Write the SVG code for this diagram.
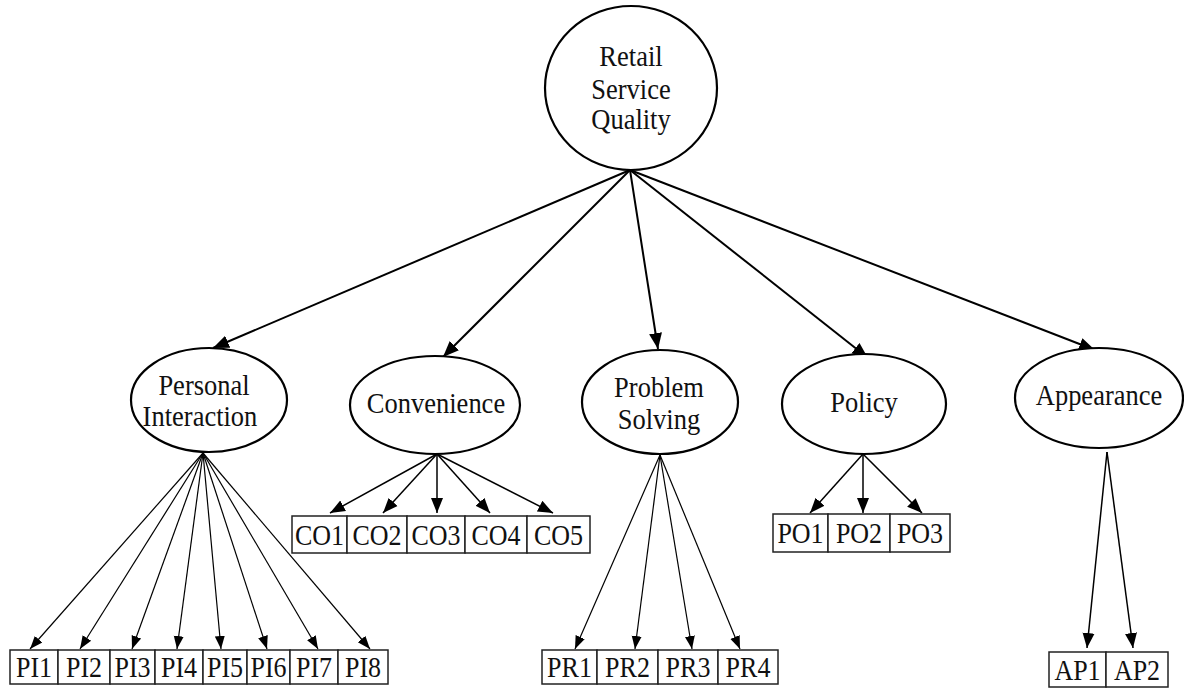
<svg xmlns="http://www.w3.org/2000/svg" width="1184" height="688" viewBox="0 0 1184 688">
<style>
.n{fill:#fff;stroke:#000;stroke-width:2.2}
.b{fill:#fff;stroke:#222;stroke-width:1.5}
.t,.bt{font-family:"Liberation Serif","Times New Roman",serif;fill:#111;text-anchor:middle;transform-box:fill-box;transform-origin:center}
.t{font-size:26.5px;transform:scaleY(1.12)}
.bt{font-size:26px;transform:scaleY(1.17)}
.e1{stroke:#000;stroke-width:2;fill:none;marker-end:url(#ah)}
.e2{stroke:#000;stroke-width:1.5;fill:none;marker-end:url(#ah2)}
.e3{stroke:#000;stroke-width:1.2;fill:none;marker-end:url(#ah3)}
</style>
<defs>
<marker id="ah" markerWidth="17" markerHeight="14" refX="16" refY="7" orient="auto" markerUnits="userSpaceOnUse"><path d="M0,0.5 L16,7 L0,13.5 z" fill="#000"/></marker>
<marker id="ah2" markerWidth="16" markerHeight="14" refX="15" refY="7" orient="auto" markerUnits="userSpaceOnUse"><path d="M0,1 L15,7 L0,13 z" fill="#000"/></marker>
<marker id="ah3" markerWidth="14" markerHeight="12" refX="13" refY="6" orient="auto" markerUnits="userSpaceOnUse"><path d="M0,1 L13,6 L0,11 z" fill="#000"/></marker>
</defs>
<rect width="1184" height="688" fill="#fff"/>
<g id="connectors">
<line class="e1" x1="630" y1="170" x2="213" y2="348"/>
<line class="e1" x1="630" y1="170" x2="443" y2="357"/>
<line class="e1" x1="630" y1="170" x2="658" y2="349"/>
<line class="e1" x1="630" y1="170" x2="868" y2="358"/>
<line class="e1" x1="630" y1="170" x2="1095" y2="350"/>
<line class="e3" x1="203" y1="453" x2="30" y2="649"/>
<line class="e3" x1="203" y1="453" x2="80" y2="649"/>
<line class="e3" x1="203" y1="453" x2="132" y2="649"/>
<line class="e3" x1="203" y1="453" x2="177" y2="649"/>
<line class="e3" x1="203" y1="453" x2="221" y2="649"/>
<line class="e3" x1="203" y1="453" x2="267" y2="649"/>
<line class="e3" x1="203" y1="453" x2="318" y2="649"/>
<line class="e3" x1="203" y1="453" x2="370" y2="649"/>
<line class="e2" x1="437" y1="454" x2="330" y2="513"/>
<line class="e2" x1="437" y1="454" x2="383" y2="513"/>
<line class="e2" x1="437" y1="454" x2="437" y2="513"/>
<line class="e2" x1="437" y1="454" x2="490" y2="513"/>
<line class="e2" x1="437" y1="454" x2="553" y2="513"/>
<line class="e3" x1="660" y1="455" x2="575" y2="649"/>
<line class="e3" x1="660" y1="455" x2="635" y2="649"/>
<line class="e3" x1="660" y1="455" x2="692" y2="649"/>
<line class="e3" x1="660" y1="455" x2="740" y2="649"/>
<line class="e2" x1="863" y1="454" x2="810" y2="513"/>
<line class="e2" x1="863" y1="454" x2="863" y2="513"/>
<line class="e2" x1="863" y1="454" x2="922" y2="513"/>
<line class="e2" x1="1107" y1="452" x2="1087" y2="648"/>
<line class="e2" x1="1107" y1="452" x2="1133" y2="648"/>
</g>
<g id="rsq"><ellipse class="n" cx="631" cy="88" rx="86" ry="82"/>
<text class="t" x="631" y="65">Retail</text><text class="t" x="631" y="98">Service</text><text class="t" x="631" y="128">Quality</text></g>
<g id="pi"><ellipse class="n" cx="209" cy="400" rx="78" ry="52"/>
<text class="t" x="204" y="394">Personal</text><text class="t" x="200" y="425">Interaction</text></g>
<g id="co"><ellipse class="n" cx="435" cy="405" rx="85" ry="49"/>
<text class="t" x="436" y="412">Convenience</text></g>
<g id="ps"><ellipse class="n" cx="660" cy="402" rx="78" ry="52"/>
<text class="t" x="659" y="396">Problem</text><text class="t" x="659" y="428">Solving</text></g>
<g id="po"><ellipse class="n" cx="864" cy="404" rx="82" ry="50"/>
<text class="t" x="864" y="411">Policy</text></g>
<g id="ap"><ellipse class="n" cx="1099" cy="398" rx="84" ry="50"/>
<text class="t" x="1099" y="404">Appearance</text></g>
<g id="pi-items">
<rect class="b" x="10" y="650" width="48" height="34"/><text class="bt" x="34" y="676">PI1</text>
<rect class="b" x="58" y="650" width="52" height="34"/><text class="bt" x="84" y="676">PI2</text>
<rect class="b" x="110" y="650" width="45" height="34"/><text class="bt" x="132.5" y="676">PI3</text>
<rect class="b" x="155" y="650" width="48" height="34"/><text class="bt" x="179" y="676">PI4</text>
<rect class="b" x="203" y="650" width="44" height="34"/><text class="bt" x="225" y="676">PI5</text>
<rect class="b" x="247" y="650" width="43" height="34"/><text class="bt" x="268.5" y="676">PI6</text>
<rect class="b" x="290" y="650" width="48" height="34"/><text class="bt" x="314" y="676">PI7</text>
<rect class="b" x="338" y="650" width="50" height="34"/><text class="bt" x="363" y="676">PI8</text>
</g>
<g id="co-items">
<rect class="b" x="292" y="516" width="55" height="37"/><text class="bt" x="319.5" y="544">CO1</text>
<rect class="b" x="347" y="516" width="60" height="37"/><text class="bt" x="377" y="544">CO2</text>
<rect class="b" x="407" y="516" width="58" height="37"/><text class="bt" x="436" y="544">CO3</text>
<rect class="b" x="465" y="516" width="62" height="37"/><text class="bt" x="496" y="544">CO4</text>
<rect class="b" x="527" y="516" width="63" height="37"/><text class="bt" x="558.5" y="544">CO5</text>
</g>
<g id="pr-items">
<rect class="b" x="542" y="650" width="55" height="34"/><text class="bt" x="569.5" y="676">PR1</text>
<rect class="b" x="597" y="650" width="61" height="34"/><text class="bt" x="627.5" y="676">PR2</text>
<rect class="b" x="658" y="650" width="60" height="34"/><text class="bt" x="688" y="676">PR3</text>
<rect class="b" x="718" y="650" width="60" height="34"/><text class="bt" x="748" y="676">PR4</text>
</g>
<g id="po-items">
<rect class="b" x="773" y="514" width="55" height="38"/><text class="bt" x="800.5" y="542">PO1</text>
<rect class="b" x="828" y="514" width="62" height="38"/><text class="bt" x="859" y="542">PO2</text>
<rect class="b" x="890" y="514" width="60" height="38"/><text class="bt" x="920" y="542">PO3</text>
</g>
<g id="ap-items">
<rect class="b" x="1049" y="652" width="57" height="35"/><text class="bt" x="1077.5" y="679">AP1</text>
<rect class="b" x="1106" y="652" width="62" height="35"/><text class="bt" x="1137" y="679">AP2</text>
</g>
</svg>
